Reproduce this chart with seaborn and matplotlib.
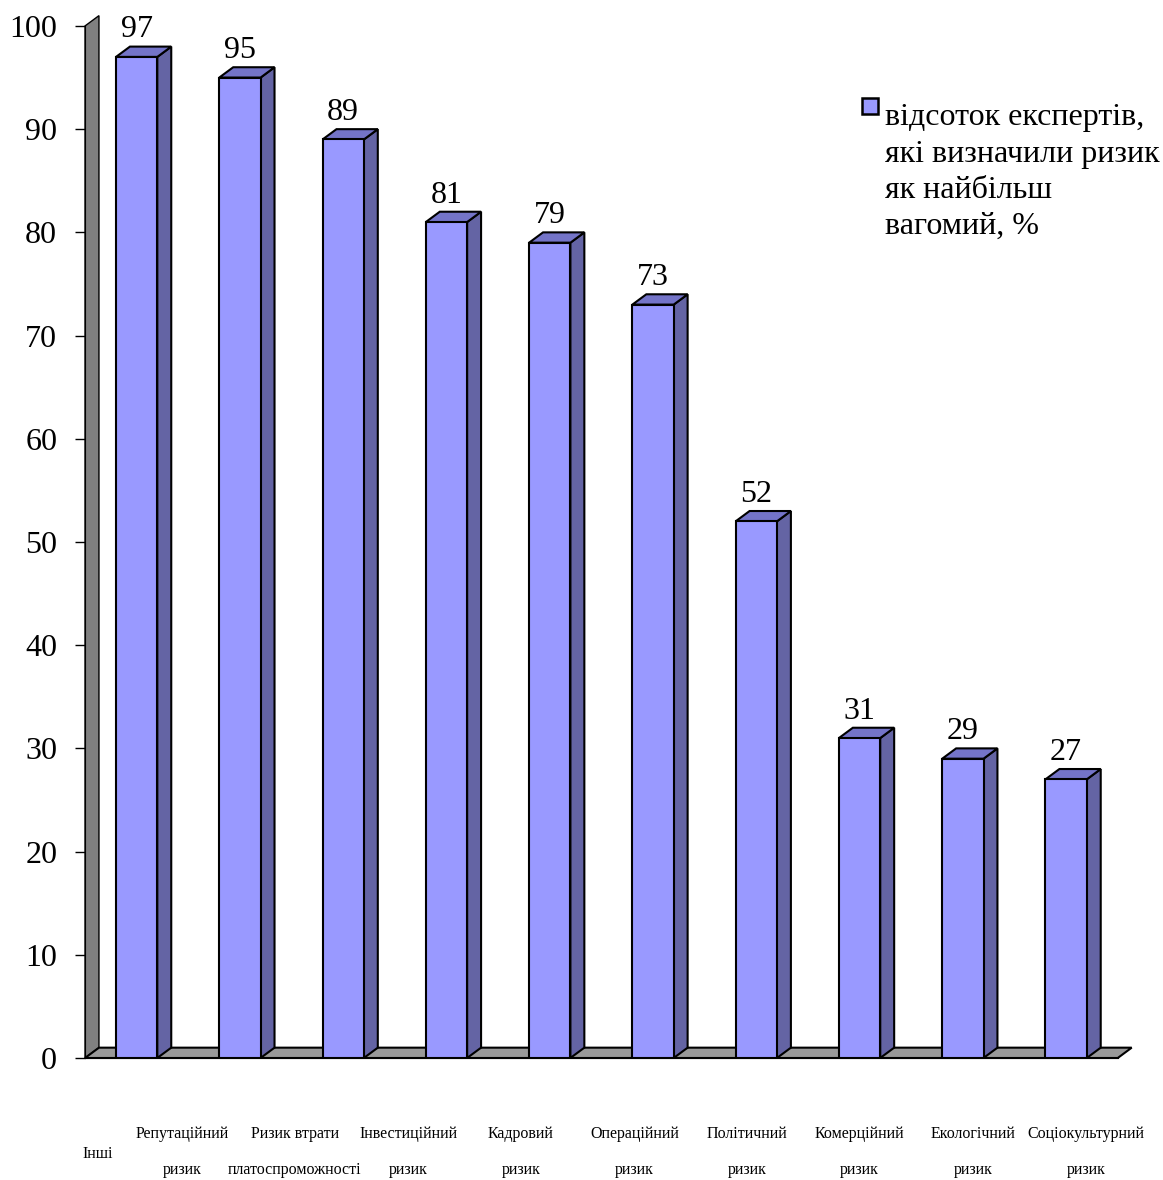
import numpy as np
import matplotlib
matplotlib.use("Agg")
import matplotlib.pyplot as plt
from matplotlib.patches import Polygon, Rectangle
from matplotlib.container import BarContainer
from matplotlib.legend_handler import HandlerBase
import seaborn as sns

# ===== DONNÉES =====
risks = ["Інші", "Репутаційний\nризик", "Ризик втрати\nплатоспроможності",
         "Інвестиційний\nризик", "Кадровий\nризик", "Операційний\nризик",
         "Політичний\nризик", "Комерційний\nризик", "Екологічний\nризик",
         "Соціокультурний\nризик"]
experts_pct = [97, 95, 89, 81, 79, 73, 52, 31, 29, 27]
series_name = "відсоток експертів,\nякі визначили ризик\nяк найбільш\nвагомий, %"

# ===== STYLE =====
sns.set_style("white")
plt.rcParams["font.family"] = ["Liberation Serif", "DejaVu Serif"]
plt.rcParams["text.color"] = "black"
plt.rcParams["xtick.color"] = "black"
plt.rcParams["ytick.color"] = "black"

front_col = "#9999FF"
side_col = "#6464A4"
top_col = "#7474C8"
dx, dy = 0.135, 1.0          # profondeur 3D (unités des données)
label_pos = [-0.38, 0.44, 1.53, 2.63, 3.72, 4.82, 5.91, 7.00, 8.10, 9.19]


class TopSquare(HandlerBase):
    # petit carré aligné sur la première ligne du texte de légende
    def create_artists(self, legend, orig_handle, xdescent, ydescent,
                       width, height, fontsize, trans):
        sq = 0.5 * fontsize
        r = Rectangle((-xdescent + width - sq * 1.05, -ydescent + height - sq + 0.86 * fontsize),
                      sq * 1.05, sq,
                      facecolor=front_col, edgecolor="black", linewidth=1.8,
                      transform=trans)
        return [r]


fig = plt.figure(figsize=(11.63, 11.80), dpi=100)
ax = fig.add_axes([0.0731, 0.1034, 0.888, 0.8746])

sns.barplot(x=list(range(len(risks))), y=experts_pct, color=front_col,
            saturation=1, width=0.4, edgecolor="black", linewidth=1.5,
            ax=ax, zorder=3, label=series_name)

ax.set_xlim(-0.5, len(risks) - 0.5)
ax.set_ylim(0, 100)

# ===== MUR + SOL 3D =====
x0, x1 = ax.get_xlim()
wall = Polygon([(x0, 0), (x0 + dx, dy), (x0 + dx, 100 + dy), (x0, 100)],
               closed=True, facecolor="#808080", edgecolor="black",
               linewidth=1, clip_on=False, zorder=1)
floor = Polygon([(x0, 0), (x1, 0), (x1 + dx, dy), (x0 + dx, dy)],
                closed=True, facecolor="#999999", edgecolor="black",
                linewidth=1.5, clip_on=False, zorder=1)

bars = list(ax.containers[0])
ax.add_patch(wall)
ax.add_patch(floor)

# faces latérales et supérieures des barres
for p in bars:
    x, w, h = p.get_x(), p.get_width(), p.get_height()
    side = Polygon([(x + w, 0), (x + w + dx, dy), (x + w + dx, h + dy), (x + w, h)],
                   closed=True, facecolor=side_col, edgecolor="black",
                   linewidth=1.5, clip_on=False, zorder=2.5)
    top = Polygon([(x, h), (x + dx, h + dy), (x + w + dx, h + dy), (x + w, h)],
                  closed=True, facecolor=top_col, edgecolor="black",
                  linewidth=1.5, clip_on=False, zorder=2.5)
    ax.add_patch(side)
    ax.add_patch(top)

ax.bar_label(ax.containers[0], padding=9, fontsize=23)

# ===== AXES =====
ax.set_yticks(np.arange(0, 101, 10))
ax.tick_params(axis="y", labelsize=23, length=7, width=1, direction="out",
               left=True, pad=13)
ax.set_xticks(label_pos, ["\nІнші"] + risks[1:])
ax.tick_params(axis="x", length=0, labelsize=11.5, pad=49)
for i, t in enumerate(ax.get_xticklabels()):
    t.set_linespacing(1.3 if i == 0 else 2.7)

for s in ["top", "right"]:
    ax.spines[s].set_visible(False)
ax.spines["left"].set_color("black")
ax.spines["bottom"].set_color("black")
ax.spines["left"].set_zorder(4)

leg = ax.legend(loc="upper left", bbox_to_anchor=(0.745, 0.925), frameon=False,
                fontsize=23, handlelength=0.75, handleheight=4.4,
                handletextpad=0.2, borderaxespad=0, borderpad=0,
                handler_map={BarContainer: TopSquare()})
for t in leg.get_texts():
    t.set_linespacing(1.33)

fig.savefig("out.png", dpi=100)
